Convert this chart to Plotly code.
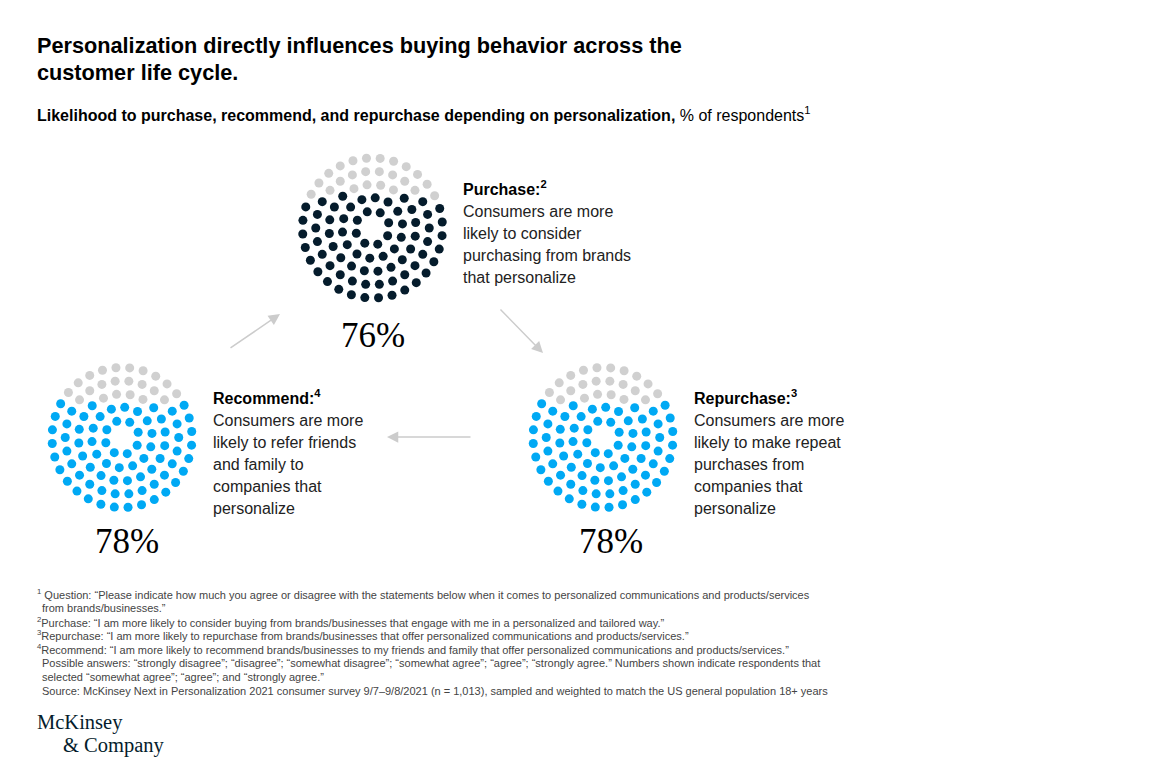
import numpy as np
import plotly.graph_objects as go

W, H = 1161, 769
OFF = 8  # default page margin of the html body

# data
stages = ["Purchase", "Repurchase", "Recommend"]
pcts = [76, 78, 78]
colors_on = ["#051C2C", "#00A9F4", "#00A9F4"]
heads = ["Purchase:<sup>2</sup>", "Repurchase:<sup>3</sup>", "Recommend:<sup>4</sup>"]
bodies = [
    ["Consumers are more", "likely to consider", "purchasing from brands", "that personalize"],
    ["Consumers are more", "likely to make repeat", "purchases from", "companies that", "personalize"],
    ["Consumers are more", "likely to refer friends", "and family to", "companies that", "personalize"],
]
footnotes = [
    "<sup>1</sup> Question: \u201cPlease indicate how much you agree or disagree with the statements below when it comes to personalized communications and products/services",
    "  from brands/businesses.\u201d",
    "<sup>2</sup>Purchase: \u201cI am more likely to consider buying from brands/businesses that engage with me in a personalized and tailored way.\u201d",
    "<sup>3</sup>Repurchase: \u201cI am more likely to repurchase from brands/businesses that offer personalized communications and products/services.\u201d",
    "<sup>4</sup>Recommend: \u201cI am more likely to recommend brands/businesses to my friends and family that offer personalized communications and products/services.\u201d",
    "  Possible answers: \u201cstrongly disagree\u201d; \u201cdisagree\u201d; \u201csomewhat disagree\u201d; \u201csomewhat agree\u201d; \u201cagree\u201d; \u201cstrongly agree.\u201d Numbers shown indicate respondents that",
    "  selected \u201csomewhat agree\u201d; \u201cagree\u201d; and \u201cstrongly agree.\u201d",
    "  Source: McKinsey Next in Personalization 2021 consumer survey 9/7\u20139/8/2021 (n = 1,013), sampled and weighted to match the US general population 18+ years",
]

# layout (pixel positions)
centers = [(372.5, 228), (603, 437.5), (122, 437.5)]
text_x = [463, 694, 213]
text_y0 = [188, 397, 397]
pct_pos = [(373, 335), (611, 541), (127, 541)]
ring_counts = [8, 14, 20, 26, 32]
ring_r = np.linspace(17, 70, 5)
ring_off = [0.2, 0.05, 0.13, 0.0, 0.08]

SANS = "Liberation Sans"
SERIF = "Liberation Serif"
PAD = 2  # annotation border + pad

fig = go.Figure()


def note(x, y, text, size, color="#000", family=SANS, anchor="left"):
    fig.add_annotation(x=x - (PAD if anchor == "left" else 0), y=y, text=text, showarrow=False,
                       xanchor=anchor, yanchor="middle",
                       font=dict(family=family, size=size, color=color))


def dots(cx, cy):
    xs, ys = [], []
    for n, r, off in zip(ring_counts, ring_r, ring_off):
        a = 2 * np.pi * (np.arange(n) / n + off)
        xs += list(cx + r * np.cos(a))
        ys += list(cy + r * np.sin(a))
    return np.array(xs), np.array(ys)


for i in range(3):
    xs, ys = dots(*centers[i])
    order = np.argsort(ys)
    ngrey = 100 - pcts[i]
    grey = order[:ngrey]
    on = order[ngrey:]
    fig.add_trace(go.Scatter(x=xs[grey], y=ys[grey], mode="markers",
                             marker=dict(size=9, color="#D0D0D0"), hoverinfo="skip"))
    fig.add_trace(go.Scatter(x=xs[on], y=ys[on], mode="markers",
                             marker=dict(size=9, color=colors_on[i]), hoverinfo="skip"))
    note(pct_pos[i][0], pct_pos[i][1], f"{pcts[i]}%", 35, family=SERIF, anchor="center")
    note(text_x[i], text_y0[i], f"<b>{heads[i]}</b>", 16)
    for k, line in enumerate(bodies[i]):
        note(text_x[i], text_y0[i] + 23 + 22 * k, line, 16, color="#222")

# arrows
for (x0, y0, x1, y1) in [(229, 349, 280, 314), (499, 308, 543, 353), (472, 437, 387, 437)]:
    fig.add_annotation(x=x1, y=y1, ax=x0, ay=y0, xref="x", yref="y", axref="x", ayref="y",
                       text="", showarrow=True, arrowhead=2, arrowsize=1.5, arrowwidth=1.5,
                       arrowcolor="#CCCCCC")

# titles
note(37, 45, "<b>Personalization directly influences buying behavior across the</b>", 21.7)
note(37, 72, "<b>customer life cycle.</b>", 21.7)
note(37, 114, "<b>Likelihood to purchase, recommend, and repurchase depending on personalization,</b> % of respondents<sup>1</sup>", 16)

# footnotes
fy = [594, 608, 622, 635, 649, 663, 677, 691]
for t, y in zip(footnotes, fy):
    x = 37
    if t.startswith("  "):
        x = 42
        t = t[2:]
    note(x, y, t, 11, color="#444")

# logo
note(37, 722, "McKinsey", 20.5, color="#051C2C", family=SERIF)
note(63, 745, "&amp; Company", 20.5, color="#051C2C", family=SERIF)

fig.update_layout(
    width=W - OFF, height=H - OFF, autosize=False,
    margin=dict(l=0, r=0, t=0, b=0),
    paper_bgcolor="white", plot_bgcolor="white",
    showlegend=False,
    xaxis=dict(range=[OFF, W], visible=False, fixedrange=True),
    yaxis=dict(range=[H, OFF], visible=False, fixedrange=True),
)

fig.write_html("out.html")
